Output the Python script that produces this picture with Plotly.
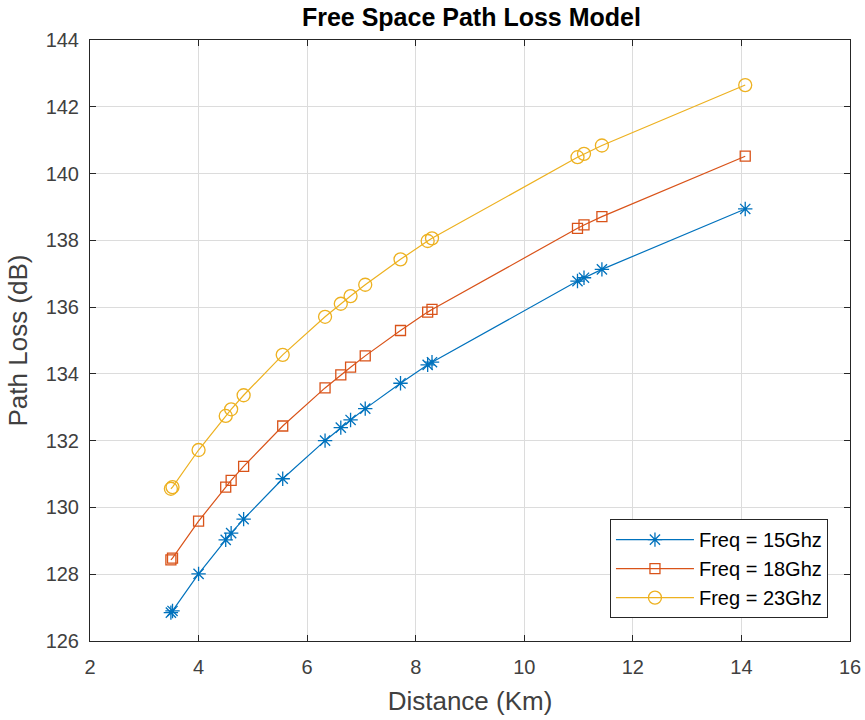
import plotly.graph_objects as go

distance_km = [3.49, 3.52, 4.0, 4.5, 4.6, 4.83, 5.55, 6.33, 6.62, 6.8, 7.07, 7.72, 8.22, 8.3, 10.98, 11.1, 11.43, 14.07]
loss_15ghz = [126.85, 126.90, 128.01, 129.03, 129.23, 129.65, 130.86, 132.00, 132.39, 132.62, 132.96, 133.72, 134.27, 134.35, 136.78, 136.88, 137.13, 138.94]
loss_18ghz = [128.43, 128.48, 129.59, 130.61, 130.81, 131.23, 132.44, 133.58, 133.97, 134.20, 134.54, 135.30, 135.85, 135.93, 138.36, 138.46, 138.71, 140.52]
loss_23ghz = [130.56, 130.61, 131.72, 132.74, 132.94, 133.36, 134.57, 135.71, 136.10, 136.33, 136.67, 137.43, 137.98, 138.06, 140.49, 140.59, 140.84, 142.65]
series_names = ["Freq = 15Ghz", "Freq = 18Ghz", "Freg = 23Ghz"]
x_ticks = [2, 4, 6, 8, 10, 12, 14, 16]
y_ticks = [126, 128, 130, 132, 134, 136, 138, 140, 142, 144]

colors = ["#0072BD", "#D95319", "#EDB120"]
symbols = ["asterisk-open", "square-open", "circle-open"]
sizes = [12, 10, 13]

FONT = "Liberation Sans, Arial"

fig = go.Figure()
for y, name, c, s, sz in zip([loss_15ghz, loss_18ghz, loss_23ghz], series_names, colors, symbols, sizes):
    fig.add_trace(go.Scatter(
        x=distance_km, y=y, name=name, mode="lines+markers",
        line=dict(color=c, width=1.2),
        marker=dict(symbol=s, size=sz, color=c, line=dict(color=c, width=1.3)),
    ))

axis_common = dict(
    showline=True, linecolor="#262626", linewidth=1, mirror="allticks",
    ticks="inside", ticklen=6, tickcolor="#262626",
    showgrid=True, gridcolor="#dcdcdc", gridwidth=1, zeroline=False,
    tickfont=dict(family=FONT, size=20, color="#404040"),
    automargin=False,
)

fig.update_layout(
    width=865, height=720,
    margin=dict(l=90, r=15, t=40, b=79),
    paper_bgcolor="white", plot_bgcolor="white",
    title=dict(text="<b>Free Space Path Loss Model</b>", x=0.545, xanchor="center", y=0.988, yanchor="top",
               font=dict(family=FONT, size=25, color="#000000"), automargin=False),
    xaxis=dict(range=[2, 16], tickvals=x_ticks, ticklabelstandoff=8, **axis_common,
               title=dict(text="Distance (Km)", font=dict(family=FONT, size=26, color="#404040"), standoff=14)),
    yaxis=dict(range=[126, 144], tickvals=y_ticks, ticklabelstandoff=6, **axis_common,
               title=dict(text="Path Loss (dB)", font=dict(family=FONT, size=26, color="#404040"), standoff=10)),
    legend=dict(x=0.971, y=0.038, xanchor="right", yanchor="bottom",
                bgcolor="white", bordercolor="#262626", borderwidth=1,
                font=dict(family=FONT, size=20, color="#000000"),
                itemwidth=78, tracegroupgap=0),
    showlegend=True,
)

fig.write_html("out.html")
